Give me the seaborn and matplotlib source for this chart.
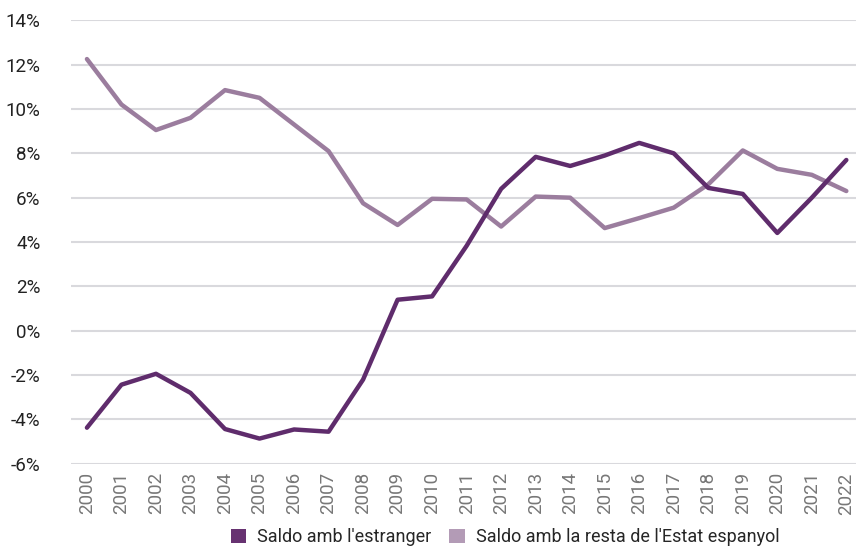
import seaborn as sns
import pandas as pd
from matplotlib import pyplot as plt
from matplotlib.patches import Patch

years = list(range(2000, 2023))
saldo_estranger = [-4.37, -2.43, -1.94, -2.8, -4.43, -4.86, -4.45, -4.55, -2.2, 1.4,
                   1.55, 3.83, 6.4, 7.84, 7.43, 7.9, 8.47, 8.0, 6.44, 6.17,
                   4.41, 6.0, 7.7]
saldo_estat = [12.25, 10.2, 9.05, 9.6, 10.85, 10.5, 9.3, 8.1, 5.75, 4.77,
               5.95, 5.92, 4.7, 6.05, 6.0, 4.63, 5.08, 5.55, 6.6, 8.13,
               7.3, 7.03, 6.3]
series_names = ["Saldo amb l'estranger", "Saldo amb la resta de l'Estat espanyol"]
line_colors = ["#5f2c6c", "#9b7d9e"]
legend_colors = ["#673271", "#b39bb6"]

df = pd.DataFrame({"Any": years * 2,
                   "Valor": saldo_estranger + saldo_estat,
                   "Serie": [series_names[0]] * len(years) + [series_names[1]] * len(years)})

sns.set_style("white")
plt.rcParams['font.family'] = ['Roboto', 'DejaVu Sans']

fig = plt.figure(figsize=(8.56, 5.47), dpi=100)
ax = fig.add_axes([0.083, 0.152, 0.917, 0.811])

# grid first so lines sit on top
for v in range(-6, 15, 2):
    ax.axhline(v, color="#d9d9dd", lw=1.5, zorder=0)

palette = dict(zip(series_names, line_colors))
# light series drawn first, dark on top
sns.lineplot(data=df, x="Any", y="Valor", hue="Serie", palette=palette,
             hue_order=series_names[::-1], lw=3.2, legend=False, ax=ax, zorder=3)

ax.set_xlim(2000 - 0.46, 2022 + 0.28)
ax.set_ylim(-6, 14)
ax.set_yticks(range(-6, 15, 2))
ax.set_yticklabels([f"{v}%" for v in range(-6, 15, 2)], fontsize=13.5, color="#222222")
ax.set_xticks(years)
ax.set_xticklabels([str(y) for y in years], rotation=90, fontsize=13.5, color="#777777")
ax.tick_params(axis="both", length=0, pad=6)
ax.tick_params(axis="y", pad=22)
ax.set_xlabel("")
ax.set_ylabel("")
for s in ax.spines.values():
    s.set_visible(False)

handles = [Patch(facecolor=c, edgecolor="none") for c in legend_colors]
fig.legend(handles, series_names, loc="center", bbox_to_anchor=(0.59, 0.018),
           ncol=2, frameon=False, fontsize=13, handlelength=0.85, handleheight=0.85,
           handletextpad=0.6, columnspacing=1.0)

fig.savefig("out.png", dpi=100)
